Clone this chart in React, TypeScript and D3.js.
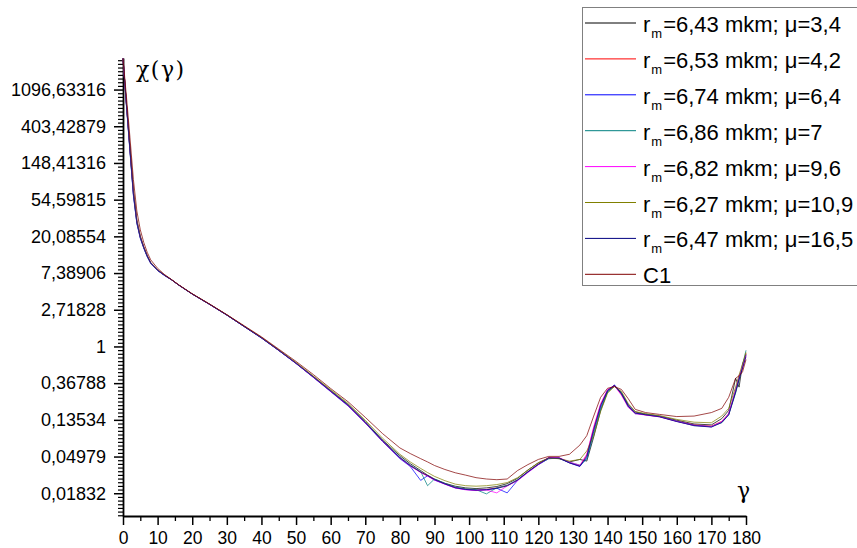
import { useEffect, useRef } from "react";
import * as d3 from "d3";

// scattering angle, degrees
const angles = [
  0, 1, 2, 3, 4, 5, 6, 7, 8, 10, 12, 14, 16, 20, 25, 30, 35, 40, 45, 50, 55, 60, 65, 70, 75, 80, 83, 86,
  88, 90, 93, 96, 99, 102, 105, 108, 111, 114, 117, 120, 123, 126, 129, 132, 134, 136, 138, 140, 142,
  144, 146, 148, 151, 155, 160, 165, 170, 173, 175, 177, 178, 179, 180,
];

// chi(gamma) for each size distribution
const r643 = [
  2560, 735, 221, 70, 31, 20, 14.9, 11.8, 9.78, 8.0, 6.96, 6.17, 5.37, 4.18, 3.16, 2.36, 1.73, 1.27, 0.905,
  0.638, 0.44, 0.301, 0.206, 0.129, 0.078, 0.051, 0.041, 0.034, 0.03, 0.027, 0.024, 0.0222, 0.0212, 0.0208,
  0.0212, 0.022, 0.0238, 0.0275, 0.0345, 0.042, 0.048, 0.047, 0.043, 0.046, 0.044, 0.085, 0.175, 0.29, 0.345,
  0.285, 0.205, 0.168, 0.158, 0.15, 0.134, 0.121, 0.118, 0.14, 0.175, 0.42, 0.33, 0.62, 0.8,
];
const r653 = [
  2560, 720, 215, 64, 29.5, 19.5, 14.8, 11.7, 9.7, 7.95, 6.95, 6.17, 5.37, 4.18, 3.16, 2.36, 1.73, 1.27, 0.9,
  0.632, 0.435, 0.296, 0.202, 0.126, 0.076, 0.048, 0.039, 0.0325, 0.0295, 0.0265, 0.0238, 0.0214, 0.0205,
  0.02, 0.0203, 0.0212, 0.0226, 0.0262, 0.033, 0.0405, 0.0485, 0.048, 0.042, 0.0385, 0.052, 0.108, 0.205,
  0.305, 0.345, 0.27, 0.195, 0.163, 0.155, 0.148, 0.131, 0.118, 0.114, 0.13, 0.16, 0.29, 0.42, 0.56, 0.83,
];
const r674 = [
  2560, 700, 205, 61, 28.5, 19, 14.5, 11.5, 9.6, 7.9, 6.9, 6.15, 5.35, 4.17, 3.15, 2.35, 1.72, 1.26, 0.895,
  0.628, 0.43, 0.292, 0.198, 0.124, 0.075, 0.047, 0.038, 0.026, 0.0295, 0.0262, 0.0236, 0.0212, 0.0203,
  0.0199, 0.0202, 0.021, 0.0185, 0.026, 0.0325, 0.04, 0.047, 0.0475, 0.0418, 0.038, 0.048, 0.098, 0.19, 0.3,
  0.35, 0.28, 0.2, 0.162, 0.156, 0.148, 0.13, 0.117, 0.112, 0.128, 0.158, 0.3, 0.43, 0.58, 0.8,
];
const r686 = [
  2560, 710, 210, 63, 29, 19.3, 14.7, 11.6, 9.7, 7.95, 6.93, 6.16, 5.36, 4.18, 3.16, 2.36, 1.73, 1.27, 0.9,
  0.635, 0.438, 0.3, 0.205, 0.128, 0.077, 0.049, 0.0395, 0.033, 0.0225, 0.027, 0.024, 0.0217, 0.0207, 0.0202,
  0.018, 0.0213, 0.0228, 0.0265, 0.033, 0.0402, 0.047, 0.0478, 0.0425, 0.0395, 0.046, 0.092, 0.18, 0.29, 0.34,
  0.28, 0.19, 0.16, 0.158, 0.149, 0.131, 0.115, 0.113, 0.125, 0.155, 0.28, 0.4, 0.6, 0.9,
];
const r682 = [
  2560, 740, 225, 68, 30.5, 19.9, 15, 11.9, 9.8, 8.02, 6.97, 6.17, 5.37, 4.18, 3.16, 2.36, 1.73, 1.27, 0.9,
  0.632, 0.432, 0.294, 0.2, 0.125, 0.0755, 0.0478, 0.0385, 0.0322, 0.0292, 0.0263, 0.0234, 0.0211, 0.0201,
  0.0197, 0.02, 0.0185, 0.0224, 0.0258, 0.0322, 0.0398, 0.0482, 0.0483, 0.0428, 0.0392, 0.053, 0.112, 0.21,
  0.31, 0.342, 0.265, 0.19, 0.16, 0.154, 0.147, 0.13, 0.116, 0.113, 0.128, 0.16, 0.31, 0.44, 0.59, 0.78,
];
const r627 = [
  2560, 760, 235, 72, 31.5, 20.3, 15.2, 12, 9.9, 8.08, 7, 6.18, 5.38, 4.19, 3.17, 2.37, 1.74, 1.28, 0.91,
  0.645, 0.447, 0.308, 0.212, 0.134, 0.082, 0.053, 0.043, 0.036, 0.0322, 0.029, 0.0258, 0.0235, 0.0225,
  0.0222, 0.0225, 0.0232, 0.0245, 0.028, 0.0345, 0.042, 0.0475, 0.047, 0.044, 0.046, 0.058, 0.088, 0.17,
  0.28, 0.335, 0.295, 0.21, 0.17, 0.16, 0.152, 0.137, 0.127, 0.125, 0.15, 0.185, 0.33, 0.46, 0.62, 0.85,
];
const r647 = [
  2560, 725, 218, 65, 29.7, 19.6, 14.85, 11.75, 9.75, 7.98, 6.95, 6.16, 5.36, 4.17, 3.15, 2.35, 1.72, 1.26,
  0.898, 0.63, 0.434, 0.295, 0.201, 0.1255, 0.0758, 0.0482, 0.0388, 0.0326, 0.0296, 0.0266, 0.0236, 0.0213,
  0.0203, 0.0199, 0.0201, 0.0209, 0.0224, 0.0262, 0.0328, 0.0403, 0.048, 0.0478, 0.042, 0.0383, 0.05, 0.104,
  0.2, 0.3, 0.347, 0.275, 0.196, 0.163, 0.155, 0.147, 0.129, 0.116, 0.111, 0.126, 0.155, 0.29, 0.41, 0.55, 0.76,
];
const c1 = [
  2560, 900, 300, 95, 40, 24, 17, 13, 10.6, 8.4, 7.1, 6.2, 5.4, 4.2, 3.18, 2.38, 1.76, 1.3, 0.93, 0.665, 0.465,
  0.318, 0.222, 0.145, 0.093, 0.063, 0.054, 0.047, 0.043, 0.039, 0.035, 0.032, 0.03, 0.028, 0.027, 0.0265,
  0.027, 0.034, 0.04, 0.046, 0.05, 0.05, 0.053, 0.068, 0.088, 0.15, 0.25, 0.32, 0.335, 0.31, 0.24, 0.18, 0.165,
  0.157, 0.148, 0.15, 0.165, 0.185, 0.25, 0.42, 0.45, 0.5, 0.7,
];

const series = [r643, r653, r674, r686, r682, r627, r647, c1];
const colors = ["#000000", "#ff0000", "#0000ff", "#008080", "#ff00ff", "#808000", "#000080", "#800000"];
const legendR = ["6,43", "6,53", "6,74", "6,86", "6,82", "6,27", "6,47"];
const legendMu = ["3,4", "4,2", "6,4", "7", "9,6", "10,9", "16,5"];

const xTicks = [0, 10, 20, 30, 40, 50, 60, 70, 80, 90, 100, 110, 120, 130, 140, 150, 160, 170, 180];
const yTickPowers = [7, 6, 5, 4, 3, 2, 1, 0, -1, -2, -3, -4];
const yTickLabels = [
  "1096,63316", "403,42879", "148,41316", "54,59815", "20,08554", "7,38906",
  "2,71828", "1", "0,36788", "0,13534", "0,04979", "0,01832",
];

const sans = "Liberation Sans, Arial, sans-serif";
const serif = "'DejaVu Serif', 'Liberation Serif', serif";

export default function App() {
  const svgRef = useRef<SVGSVGElement>(null);

  useEffect(() => {
    const svg = d3.select(svgRef.current);
    svg.selectAll("*").remove();

    const left = 123, right = 746, top = 58, bottom = 516;

    const x = d3.scaleLinear().domain([0, 180]).range([left, right]);
    const y = d3
      .scaleLog()
      .base(Math.E)
      .domain([Math.exp(-4.62), Math.exp(7.86)])
      .range([bottom, top]);

    // minor ticks
    const xMinor = xTicks.slice(0, -1).map((t) => t + 5);
    svg
      .append("g")
      .attr("transform", `translate(0,${bottom})`)
      .call(d3.axisBottom(x).tickValues(xMinor).tickSize(5).tickFormat(() => ""))
      .call((g) => g.select(".domain").remove())
      .selectAll("line")
      .attr("stroke-width", 1.3);

    const yMinor = d3
      .range(-46, 79)
      .filter((k) => k % 10 !== 0)
      .map((k) => Math.exp(k / 10));
    svg
      .append("g")
      .attr("transform", `translate(${left},0)`)
      .call(d3.axisLeft(y).tickValues(yMinor).tickSize(5).tickFormat(() => ""))
      .call((g) => g.select(".domain").remove())
      .selectAll("line")
      .attr("stroke-width", 1.2);

    // major axes
    const gx = svg
      .append("g")
      .attr("transform", `translate(0,${bottom})`)
      .call(d3.axisBottom(x).tickValues(xTicks).tickSize(9).tickSizeOuter(0).tickPadding(7));
    gx.attr("font-family", sans).attr("font-size", 17.5);
    gx.selectAll("line").attr("stroke-width", 1.5);
    gx.select(".domain").attr("stroke-width", 1.8);

    const gy = svg
      .append("g")
      .attr("transform", `translate(${left},0)`)
      .call(
        d3
          .axisLeft(y)
          .tickValues(yTickPowers.map((p) => Math.exp(p)))
          .tickFormat((_, i) => yTickLabels[i])
          .tickSize(9)
          .tickSizeOuter(0)
          .tickPadding(8)
      );
    gy.attr("font-family", sans).attr("font-size", 18);
    gy.selectAll("line").attr("stroke-width", 1.5);
    gy.select(".domain").attr("stroke-width", 1.8);

    // curves
    const line = d3
      .line<number>()
      .x((_, i) => x(angles[i]))
      .y((d) => y(d));

    series.forEach((vals, i) => {
      svg
        .append("path")
        .datum(vals)
        .attr("d", line)
        .attr("fill", "none")
        .attr("stroke", colors[i])
        .attr("stroke-opacity", 0.8)
        .attr("stroke-width", 0.9);
    });

    // axis titles
    svg
      .append("text")
      .attr("x", 136)
      .attr("y", 77)
      .attr("font-family", serif)
      .attr("font-size", 22)
      .attr("letter-spacing", 1.5)
      .text("χ(γ)");
    svg
      .append("text")
      .attr("x", 737)
      .attr("y", 498)
      .attr("font-family", serif)
      .attr("font-size", 22)
      .text("γ");

    // legend
    const leg = svg.append("g");
    leg
      .append("rect")
      .attr("x", 582.5)
      .attr("y", 7.5)
      .attr("width", 300)
      .attr("height", 278)
      .attr("fill", "#fff")
      .attr("stroke", "#808080")
      .attr("stroke-width", 1);

    colors.forEach((c, i) => {
      const ly = 23 + i * 35.9;
      leg
        .append("line")
        .attr("x1", 585)
        .attr("x2", 636)
        .attr("y1", ly)
        .attr("y2", ly)
        .attr("stroke", c)
        .attr("stroke-width", 1);
      const t = leg
        .append("text")
        .attr("x", 643)
        .attr("y", ly + 9)
        .attr("font-family", sans)
        .attr("font-size", 22)
        .attr("fill", "#000");
      if (i < legendR.length) {
        t.append("tspan").text("r");
        t.append("tspan").attr("dx", 1).attr("dy", 6).attr("font-size", 13).text("m");
        t.append("tspan")
          .attr("dx", 1)
          .attr("dy", -6)
          .text(`=${legendR[i]} mkm; μ=${legendMu[i]}`);
      } else {
        t.text("C1");
      }
    });
  }, []);

  return (
    <svg
      ref={svgRef}
      width={857}
      height={548}
      style={{ position: "absolute", left: 0, top: 0, background: "#fff" }}
    />
  );
}
